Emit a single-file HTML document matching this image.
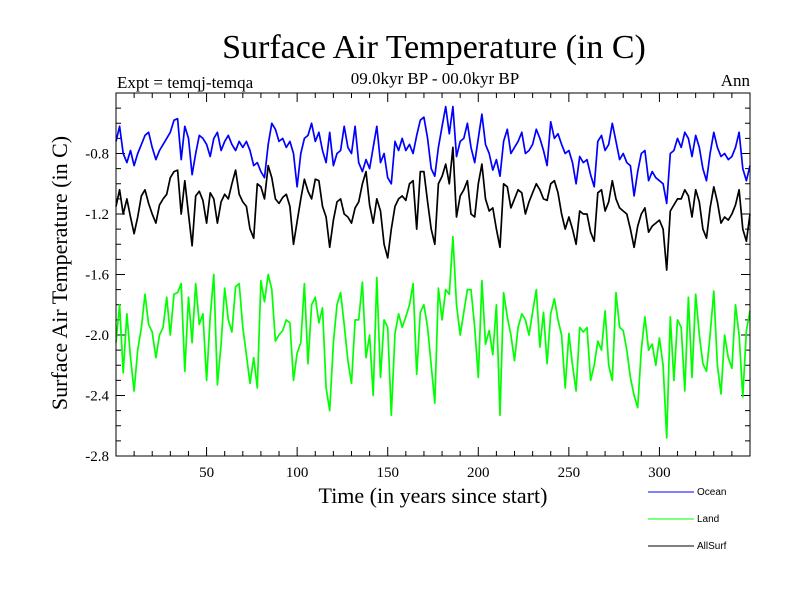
<!DOCTYPE html>
<html><head><meta charset="utf-8"><style>
body{margin:0;background:#fff;}
svg{display:block;font-family:"Liberation Serif",serif;}
</style></head><body>
<svg id="chart" width="800" height="600" xmlns="http://www.w3.org/2000/svg">
<rect width="800" height="600" fill="#fff"/>
<text x="434" y="58" font-size="34" text-anchor="middle">Surface Air Temperature (in C)</text>
<text x="435" y="84" font-size="17" text-anchor="middle">09.0kyr BP - 00.0kyr BP</text>
<text x="117" y="88" font-size="17">Expt = temqj-temqa</text>
<text x="750" y="86" font-size="17" text-anchor="end">Ann</text>
<text transform="translate(67,273) rotate(-90)" font-size="22" text-anchor="middle">Surface Air Temperature (in C)</text>
<text x="433" y="503" font-size="22" text-anchor="middle">Time (in years since start)</text>
<g id="ticks"></g>
<g id="series"></g>
<rect x="116" y="93" width="634" height="363" fill="none" stroke="#000" stroke-width="1"/>
<g>
<line x1="648" y1="492" x2="694" y2="492" stroke="#0000ff"/>
<text x="697" y="495" font-size="10" font-family="Liberation Sans, sans-serif">Ocean</text>
<line x1="648" y1="519" x2="694" y2="519" stroke="#00ff00"/>
<text x="697" y="522" font-size="10" font-family="Liberation Sans, sans-serif">Land</text>
<line x1="648" y1="546" x2="694" y2="546" stroke="#000"/>
<text x="697" y="549" font-size="10" font-family="Liberation Sans, sans-serif">AllSurf</text>
</g>
</svg>
<script>
const yearStep = 2;
const xTickLabels = [50,100,150,200,250,300];
const yTickLabels = [-2.8,-2.4,-2.0,-1.6,-1.2,-0.8];
const ocean = [-0.72,-0.62,-0.80,-0.86,-0.78,-0.88,-0.80,-0.74,-0.68,-0.66,-0.76,-0.84,-0.78,-0.74,-0.70,-0.66,-0.58,-0.57,-0.84,-0.62,-0.70,-0.94,-0.80,-0.68,-0.70,-0.74,-0.82,-0.70,-0.66,-0.78,-0.72,-0.68,-0.74,-0.78,-0.72,-0.76,-0.72,-0.78,-0.88,-0.86,-0.92,-0.96,-0.74,-0.60,-0.64,-0.72,-0.70,-0.76,-0.72,-0.80,-1.02,-0.80,-0.70,-0.68,-0.60,-0.72,-0.66,-0.78,-0.86,-0.66,-0.88,-0.80,-0.78,-0.62,-0.76,-0.80,-0.62,-0.86,-0.92,-0.84,-0.90,-0.76,-0.62,-0.86,-0.80,-0.96,-1.0,-0.72,-0.78,-0.70,-0.78,-0.74,-0.80,-0.68,-0.58,-0.56,-0.70,
-0.90,-0.95,-0.76,-0.62,-0.49,-0.67,-0.49,-0.82,-0.72,-0.70,-0.60,-0.76,-0.86,-0.70,-0.54,-0.74,-0.80,-0.91,-0.84,-0.95,-0.72,-0.64,-0.80,-0.76,-0.72,-0.66,-0.80,-0.78,-0.74,-0.64,-0.70,-0.78,-0.88,-0.59,-0.70,-0.67,-0.74,-0.80,-0.78,-0.86,-1.0,-0.82,-0.86,-0.84,-0.94,-1.02,-0.72,-0.68,-0.78,-0.74,-0.60,-0.72,-0.84,-0.80,-0.86,-0.88,-1.08,-0.92,-0.80,-0.78,-0.98,-0.92,-0.96,-0.98,-1.0,-1.13,-0.80,-0.78,-0.70,-0.76,-0.66,-0.70,-0.82,-0.68,-0.76,-0.90,-0.98,-0.80,-0.66,-0.76,-0.82,-0.80,-0.84,-0.82,-0.76,-0.66,-0.90,-0.98,-0.88];
const allsurf = [-1.15,-1.04,-1.20,-1.10,-1.22,-1.33,-1.22,-1.08,-1.04,-1.13,-1.20,-1.26,-1.14,-1.10,-1.07,-0.96,-0.92,-0.91,-1.20,-0.98,-1.20,-1.41,-1.08,-1.05,-1.11,-1.26,-1.06,-1.10,-1.26,-1.12,-1.07,-1.10,-1.00,-0.91,-1.07,-1.12,-1.15,-1.30,-1.36,-1.00,-1.02,-1.10,-0.88,-0.96,-1.10,-1.13,-1.09,-1.07,-1.15,-1.40,-1.25,-1.10,-0.97,-1.05,-1.10,-0.97,-0.98,-1.15,-1.22,-1.42,-1.24,-1.12,-1.10,-1.20,-1.22,-1.26,-1.16,-1.12,-1.00,-0.92,-1.14,-1.26,-1.10,-1.18,-1.40,-1.49,-1.30,-1.15,-1.10,-1.08,-1.11,-1.00,-0.98,-1.30,-0.92,-0.92,-1.12,
-1.30,-1.40,-1.00,-0.95,-0.87,-1.00,-0.76,-1.22,-1.08,-1.04,-0.98,-1.20,-1.22,-1.00,-0.87,-1.10,-1.18,-1.16,-1.30,-1.42,-1.00,-1.02,-1.16,-1.10,-1.04,-1.06,-1.20,-1.12,-1.06,-1.00,-1.04,-1.10,-1.11,-1.00,-0.98,-1.06,-1.20,-1.30,-1.22,-1.30,-1.40,-1.18,-1.20,-1.20,-1.32,-1.38,-1.06,-1.04,-1.18,-1.12,-0.98,-1.10,-1.16,-1.18,-1.20,-1.30,-1.42,-1.28,-1.20,-1.16,-1.32,-1.28,-1.26,-1.24,-1.30,-1.57,-1.18,-1.14,-1.10,-1.10,-1.04,-1.08,-1.22,-1.04,-1.12,-1.30,-1.36,-1.16,-1.02,-1.12,-1.26,-1.22,-1.24,-1.20,-1.14,-1.04,-1.30,-1.38,-1.20];
const land = [-2.05,-1.80,-2.25,-1.86,-2.15,-2.37,-2.10,-1.95,-1.73,-1.93,-1.98,-2.15,-2.00,-1.95,-1.75,-2.0,-1.73,-1.72,-1.66,-2.24,-1.75,-2.05,-1.66,-1.93,-1.86,-2.30,-1.88,-1.60,-2.33,-2.06,-1.69,-1.90,-1.98,-1.68,-1.66,-1.95,-2.13,-2.32,-2.15,-2.35,-1.64,-1.78,-1.60,-1.70,-2.04,-2.0,-1.97,-1.90,-1.92,-2.30,-2.12,-2.05,-1.66,-2.19,-1.80,-1.75,-1.92,-1.82,-2.35,-2.50,-2.05,-1.80,-1.72,-1.93,-2.17,-2.32,-1.90,-1.90,-1.65,-2.15,-2.0,-2.40,-1.62,-2.28,-1.90,-1.95,-2.53,-1.99,-1.86,-1.95,-1.88,-1.80,-1.66,-2.26,-1.85,-1.80,-1.95,
-2.20,-2.45,-1.69,-1.90,-1.70,-1.73,-1.35,-1.80,-2.0,-1.85,-1.70,-1.70,-1.95,-2.28,-1.64,-2.06,-1.97,-2.13,-1.80,-2.53,-1.72,-1.88,-2.0,-2.17,-1.95,-1.86,-1.90,-2.0,-1.85,-1.70,-2.08,-1.85,-2.19,-1.86,-1.76,-1.90,-2.0,-2.35,-1.99,-2.2,-2.37,-1.95,-1.98,-1.95,-2.30,-2.20,-2.04,-2.10,-1.84,-2.20,-2.30,-1.72,-1.95,-1.97,-2.10,-2.28,-2.40,-2.48,-2.10,-1.88,-2.10,-2.06,-2.20,-2.02,-2.20,-2.68,-1.88,-2.30,-1.90,-1.95,-2.37,-1.75,-2.28,-1.73,-2.0,-2.19,-2.24,-2.0,-1.71,-2.20,-2.39,-2.0,-2.15,-2.22,-1.80,-2.0,-2.41,-1.97,-1.84];

const X0=116,X1=750,Y0=93,Y1=456, XMIN=0,XMAX=350,YMIN=-2.8,YMAX=-0.4;
function xs(v){return X0+(v-XMIN)/(XMAX-XMIN)*(X1-X0);}
function ys(v){return Y1-(v-YMIN)/(YMAX-YMIN)*(Y1-Y0);}
const NS='http://www.w3.org/2000/svg';
const tg=document.getElementById('ticks');
function ln(x1,y1,x2,y2){const l=document.createElementNS(NS,'line');l.setAttribute('x1',x1);l.setAttribute('y1',y1);l.setAttribute('x2',x2);l.setAttribute('y2',y2);l.setAttribute('stroke','#000');l.setAttribute('stroke-width','1');


tg.appendChild(l);}
for(let t=10;t<XMAX;t+=10){const x=xs(t);const L=(t%50===0)?9:5;ln(x,Y1,x,Y1-L);ln(x,Y0,x,Y0+L);}
for(let k=1;k<24;k++){const v=YMIN+k*0.1;const y=ys(v);const L=(k%4===0)?9:5;ln(X0,y,X0+L,y);ln(X1,y,X1-L,y);}
xTickLabels.forEach(v=>{const t=document.createElementNS(NS,'text');t.setAttribute('x',xs(v));t.setAttribute('y',Y1+21);t.setAttribute('font-size','15');t.setAttribute('text-anchor','middle');t.textContent=v;


tg.appendChild(t);});
yTickLabels.forEach(v=>{const t=document.createElementNS(NS,'text');t.setAttribute('x',X0-7);t.setAttribute('y',ys(v)+5);t.setAttribute('font-size','15');t.setAttribute('text-anchor','end');t.textContent=v.toFixed(1);


tg.appendChild(t);});
const sg=document.getElementById('series');
function draw(arr,color,name){const p=document.createElementNS(NS,'polyline');
p.setAttribute('points',arr.map((v,i)=>xs(i*yearStep).toFixed(1)+','+ys(v).toFixed(1)).join(' '));
p.setAttribute('fill','none');p.setAttribute('stroke',color);p.setAttribute('stroke-width','1.7');p.setAttribute('stroke-linejoin','round');


sg.appendChild(p);}
draw(ocean,'#0000ff','ocean-line');
draw(land,'#00ff00','land-line');
draw(allsurf,'#000000','allsurf-line');
</script>
</body></html>
